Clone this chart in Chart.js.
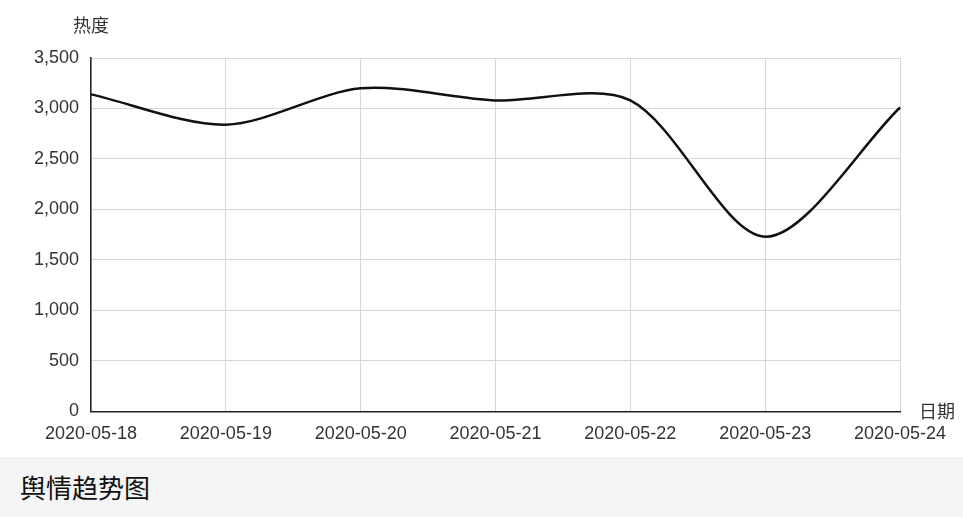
<!DOCTYPE html>
<html>
<head>
<meta charset="utf-8">
<script src="https://cdn.jsdelivr.net/npm/chart.js@4"></script>
<style>
  html, body { margin: 0; padding: 0; background: #fff; }
  #wrap { width: 963px; height: 457px; position: relative; }
  .caption {
    height: 60px; background: #f4f4f4; box-sizing: border-box;
    padding-left: 20px; line-height: 60px;
    font-family: "Noto Sans CJK SC", sans-serif; font-size: 26px; color: #111;
  }
</style>
</head>
<body>
<div id="wrap"><canvas id="myChart" width="963" height="457"></canvas></div>
<div class="caption">舆情趋势图</div>
<script>
var dates = ['2020-05-18', '2020-05-19', '2020-05-20', '2020-05-21', '2020-05-22', '2020-05-23', '2020-05-24'];
var heat = [3140, 2840, 3200, 3080, 3080, 1730, 3010];
var yTitle = '热度';
var xTitle = '日期';

// axis names: y on top of the axis, x to the right of the axis
var axisNames = {
    id: 'axisNames',
    afterDraw: function (chart) {
        var ctx = chart.ctx, area = chart.chartArea;
        ctx.save();
        ctx.fillStyle = '#333';
        ctx.font = '18px "Noto Sans CJK SC", sans-serif';
        ctx.textBaseline = 'middle';
        ctx.textAlign = 'center';
        ctx.fillText(yTitle, area.left, 25);
        ctx.textAlign = 'left';
        ctx.fillText(xTitle, area.right + 19, area.bottom);
        ctx.restore();
    }
};

function createChart() {
    var ctx = document.getElementById('myChart').getContext('2d');
    var myChart = new Chart(ctx, {
        type: 'line',
        data: {
            labels: dates,
            datasets: [{
                label: yTitle,
                data: heat,
                borderColor: '#111',
                borderWidth: 2.5,
                tension: 0.3,
                pointRadius: 0,
                fill: false
            }]
        },
        options: {
            responsive: false,
            animation: false,
            layout: { padding: { top: 58, right: 63, left: 22, bottom: 0 } },
            plugins: { legend: { display: false }, tooltip: { enabled: false } },
            scales: {
                x: {
                    offset: false,
                    grid: { color: '#d8d8d8', drawTicks: false },
                    border: { color: '#222', width: 1.5 },
                    ticks: { color: '#333', padding: 12, maxRotation: 0, font: { family: 'Liberation Sans', size: 18 } }
                },
                y: {
                    min: 0,
                    max: 3500,
                    grid: { color: '#d8d8d8', drawTicks: false },
                    border: { color: '#222', width: 1.5 },
                    ticks: { stepSize: 500, color: '#333', padding: 12, font: { family: 'Liberation Sans', size: 18 } }
                }
            }
        },
        plugins: [axisNames]
    });
}
createChart();
</script>
</body>
</html>
